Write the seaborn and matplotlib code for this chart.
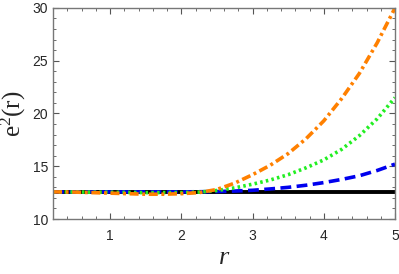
import numpy as np
import pandas as pd
import seaborn as sns
import matplotlib.pyplot as plt
from matplotlib.ticker import MultipleLocator

r_black = [0.2, 5.0]
e_black = [12.57, 12.57]

r_blue = [0.2, 1.0, 2.0, 2.5, 2.75, 3.0, 3.25, 3.5, 3.75, 4.0, 4.25, 4.5, 4.75, 5.0]
e_blue = [12.57, 12.57, 12.57, 12.6, 12.65, 12.72, 12.85, 13.0, 13.2, 13.45, 13.75, 14.1, 14.6, 15.2]

r_green = [0.2, 0.5, 1.0, 1.5, 2.0, 2.25, 2.5, 2.75, 3.0, 3.25, 3.5, 3.75, 4.0, 4.25, 4.5, 4.75, 5.0]
e_green = [12.57, 12.56, 12.53, 12.5, 12.5, 12.55, 12.7, 12.95, 13.3, 13.7, 14.2, 14.85, 15.6, 16.6, 17.9, 19.5, 21.5]

r_orange = [0.2, 0.5, 1.0, 1.5, 1.75, 2.0, 2.25, 2.5, 2.75, 3.0, 3.25, 3.5, 3.75, 4.0, 4.25, 4.5, 4.75, 5.0]
e_orange = [12.57, 12.55, 12.45, 12.35, 12.35, 12.4, 12.5, 12.8, 13.4, 14.2, 15.1, 16.2, 17.6, 19.3, 21.4, 23.8, 26.7, 30.0]

x_ticks = [1, 2, 3, 4, 5]
y_ticks = [10, 15, 20, 25, 30]

sns.set_style("ticks")
plt.rcParams['font.family'] = ['Liberation Sans', 'DejaVu Sans']
plt.rcParams['mathtext.fontset'] = 'custom'
plt.rcParams['mathtext.rm'] = 'Liberation Serif'
plt.rcParams['mathtext.it'] = 'Liberation Serif:italic'

fig = plt.figure(figsize=(3.99, 2.74), dpi=100)
ax = fig.add_axes([0.133, 0.2007, 0.857, 0.7703])

sns.lineplot(x=r_black, y=e_black, ax=ax, color='black', lw=2.8, linestyle='-')
sns.lineplot(x=r_blue, y=e_blue, ax=ax, color='#0000ee', lw=2.6, linestyle=(0, (3, 1.5)))
sns.lineplot(x=r_green, y=e_green, ax=ax, color='#22ee22', lw=2.6, linestyle=(0, (0.7, 0.9)))
sns.lineplot(x=r_orange, y=e_orange, ax=ax, color='#ff8000', lw=2.6, linestyle=(0, (2.5, 1, 0.8, 1)))

ax.set_xlim(0.2, 5.0)
ax.set_ylim(10, 30)
ax.set_xticks(x_ticks)
ax.set_yticks(y_ticks)
ax.xaxis.set_minor_locator(MultipleLocator(0.2))
ax.yaxis.set_minor_locator(MultipleLocator(1))
ax.tick_params(which='both', direction='in', top=True, right=True, color='#555555', labelsize=10)
ax.tick_params(which='major', length=4, width=0.8)
ax.tick_params(which='minor', length=2, width=0.6)
ax.tick_params(axis='x', which='major', labeltop=False, pad=7)
for s in ax.spines.values():
    s.set_color('#777777')
    s.set_linewidth(1.0)

ax.set_xlabel('r', fontfamily='Liberation Serif', fontstyle='italic', fontsize=19, labelpad=3)
ax.set_ylabel(r'$\mathregular{e^2(r)}$', fontfamily='Liberation Serif', fontsize=18, labelpad=3)

fig.savefig('out.png', dpi=100)
